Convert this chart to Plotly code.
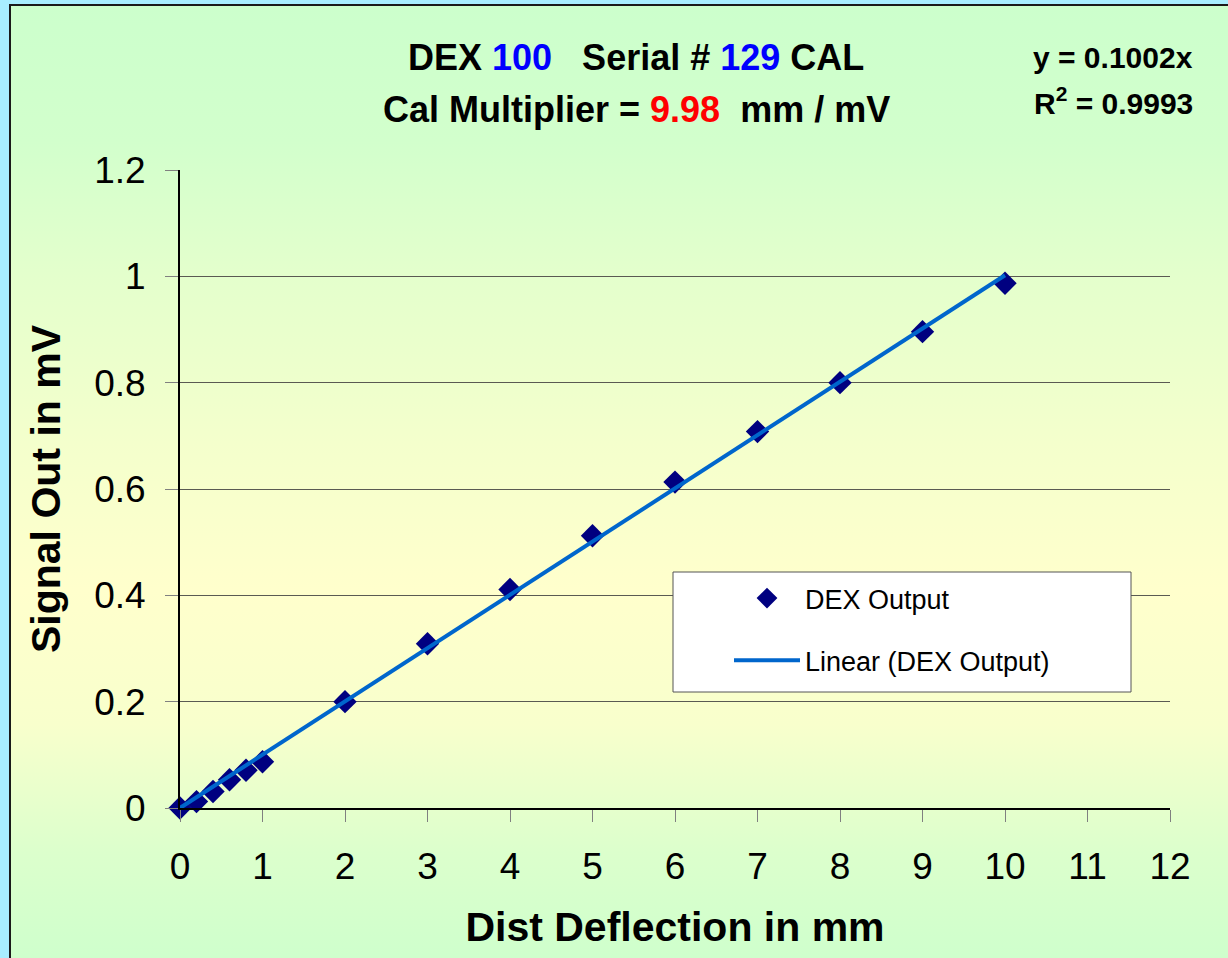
import base64
import plotly.graph_objects as go

# ---- data ----
x_mm = [0, 0.2, 0.4, 0.6, 0.8, 1, 2, 3, 4, 5, 6, 7, 8, 9, 10]
signal_mv = [0, 0.012, 0.031, 0.053, 0.071, 0.087, 0.200, 0.309, 0.411, 0.512, 0.613, 0.708, 0.800, 0.896, 0.987]
trend_slope = 0.1002
trend_r2 = 0.9993
trend_x = [0, 10]
trend_y = [trend_slope * v for v in trend_x]
x_ticks = list(range(0, 13))
y_ticks = [0, 0.2, 0.4, 0.6, 0.8, 1.0, 1.2]

W, H = 1228, 958
L, R, T, B = 180, 1170, 170, 808  # plot area in px
FONT = "Liberation Sans, Arial, sans-serif"


def px(xp):
    return (xp - L) / (R - L)


def py(yp):
    return (B - yp) / (B - T)


# background gradient (decoration)
stops = [(0, "#CCFFCC"), (0.14, "#D2FFCC"), (0.28, "#E4FFCC"), (0.45, "#F4FFCC"),
         (0.60, "#FFFFCC"), (0.74, "#F8FFCC"), (0.87, "#DCFFCC"), (1.0, "#CCFFCC")]
stop_txt = "".join(f"<stop offset='{o}' stop-color='{c}'/>" for o, c in stops)
svg = ("<svg xmlns='http://www.w3.org/2000/svg' width='100' height='100' preserveAspectRatio='none'>"
       "<defs><linearGradient id='g' x1='0' y1='0' x2='0' y2='1'>" + stop_txt +
       "</linearGradient></defs><rect width='100' height='100' fill='url(#g)'/></svg>")
svg_uri = "data:image/svg+xml;base64," + base64.b64encode(svg.encode()).decode()

fig = go.Figure()
fig.add_trace(go.Scatter(
    x=x_mm, y=signal_mv, mode="markers", name="DEX Output",
    marker=dict(symbol="diamond", size=18, color="#000080", line=dict(width=0)),
    cliponaxis=False, legendgroup="a",
))
fig.add_trace(go.Scatter(
    x=trend_x, y=trend_y, mode="lines", name="Linear (DEX Output)",
    line=dict(color="#0066CC", width=4), cliponaxis=False, legendgroup="b",
))

fig.update_layout(
    width=W, height=H,
    margin=dict(l=L, r=W - R, t=T, b=H - B, autoexpand=False),
    paper_bgcolor="#A8EEFF",
    plot_bgcolor="rgba(0,0,0,0)",
    font=dict(family=FONT, color="black"),
    showlegend=True,
    legend=dict(
        x=px(729), y=py(574), xanchor="left", yanchor="top",
        bgcolor="rgba(0,0,0,0)", borderwidth=0,
        font=dict(family=FONT, size=27, color="black"),
        traceorder="grouped", tracegroupgap=24, itemwidth=66,
    ),
    images=[dict(source=svg_uri, xref="paper", yref="paper",
                 x=px(10), y=py(5), sizex=px(W + 20) - px(10), sizey=py(5) - py(H + 20),
                 xanchor="left", yanchor="top", sizing="stretch", layer="below")],
    shapes=[
        dict(type="rect", xref="paper", yref="paper", x0=px(10), y0=py(H + 20), x1=px(W + 20), y1=py(5),
             line=dict(color="#1A1A1A", width=2), fillcolor="rgba(0,0,0,0)", layer="below"),
        dict(type="rect", xref="paper", yref="paper", x0=px(673), y0=py(692), x1=px(1131), y1=py(572),
             line=dict(color="#555555", width=1), fillcolor="white", layer="above"),
    ],
    annotations=[
        dict(text="<b>DEX <span style='color:#0000FF'>100</span>\u00a0\u00a0\u00a0Serial # "
                  "<span style='color:#0000FF'>129</span> CAL</b>",
             xref="paper", yref="paper", x=px(636), y=py(58), xanchor="center", yanchor="middle",
             showarrow=False, font=dict(family=FONT, size=36, color="black")),
        dict(text="<b>Cal Multiplier = <span style='color:#FF0000'>9.98</span>\u00a0\u00a0mm / mV</b>",
             xref="paper", yref="paper", x=px(636), y=py(110), xanchor="center", yanchor="middle",
             showarrow=False, font=dict(family=FONT, size=36, color="black")),
        dict(text=f"<b>y = {trend_slope}x</b>",
             xref="paper", yref="paper", x=px(1195), y=py(58), xanchor="right", yanchor="middle",
             showarrow=False, font=dict(family=FONT, size=30, color="black")),
        dict(text=f"<b>R<sup>2</sup> = {trend_r2}</b>",
             xref="paper", yref="paper", x=px(1195), y=py(101), xanchor="right", yanchor="middle",
             showarrow=False, font=dict(family=FONT, size=30, color="black")),
    ],
)

fig.update_xaxes(
    range=[0, 12], tickvals=x_ticks, ticktext=[str(v) for v in x_ticks],
    showgrid=False, zeroline=False,
    showline=True, linecolor="black", linewidth=2,
    ticks="outside", ticklen=12, tickcolor="#808080", tickwidth=1,
    tickfont=dict(family=FONT, size=37, color="black"), ticklabelstandoff=13,
    title=dict(text="<b>Dist Deflection in mm</b>", font=dict(family=FONT, size=41, color="black"),
               standoff=26),
)
fig.update_yaxes(
    range=[0, 1.2], tickvals=y_ticks, ticktext=["0", "0.2", "0.4", "0.6", "0.8", "1", "1.2"],
    showgrid=True, gridcolor="#5A5A52", gridwidth=1, zeroline=False,
    showline=True, linecolor="black", linewidth=2,
    ticks="outside", ticklen=13, tickcolor="#808080", tickwidth=1,
    tickfont=dict(family=FONT, size=37, color="black"), ticklabelstandoff=12,
    title=dict(text="<b>Signal Out in mV</b>", font=dict(family=FONT, size=41, color="black"),
               standoff=21),
)

fig.write_html("out.html", config={"displayModeBar": False},
               post_script="document.body.style.margin='0';")
